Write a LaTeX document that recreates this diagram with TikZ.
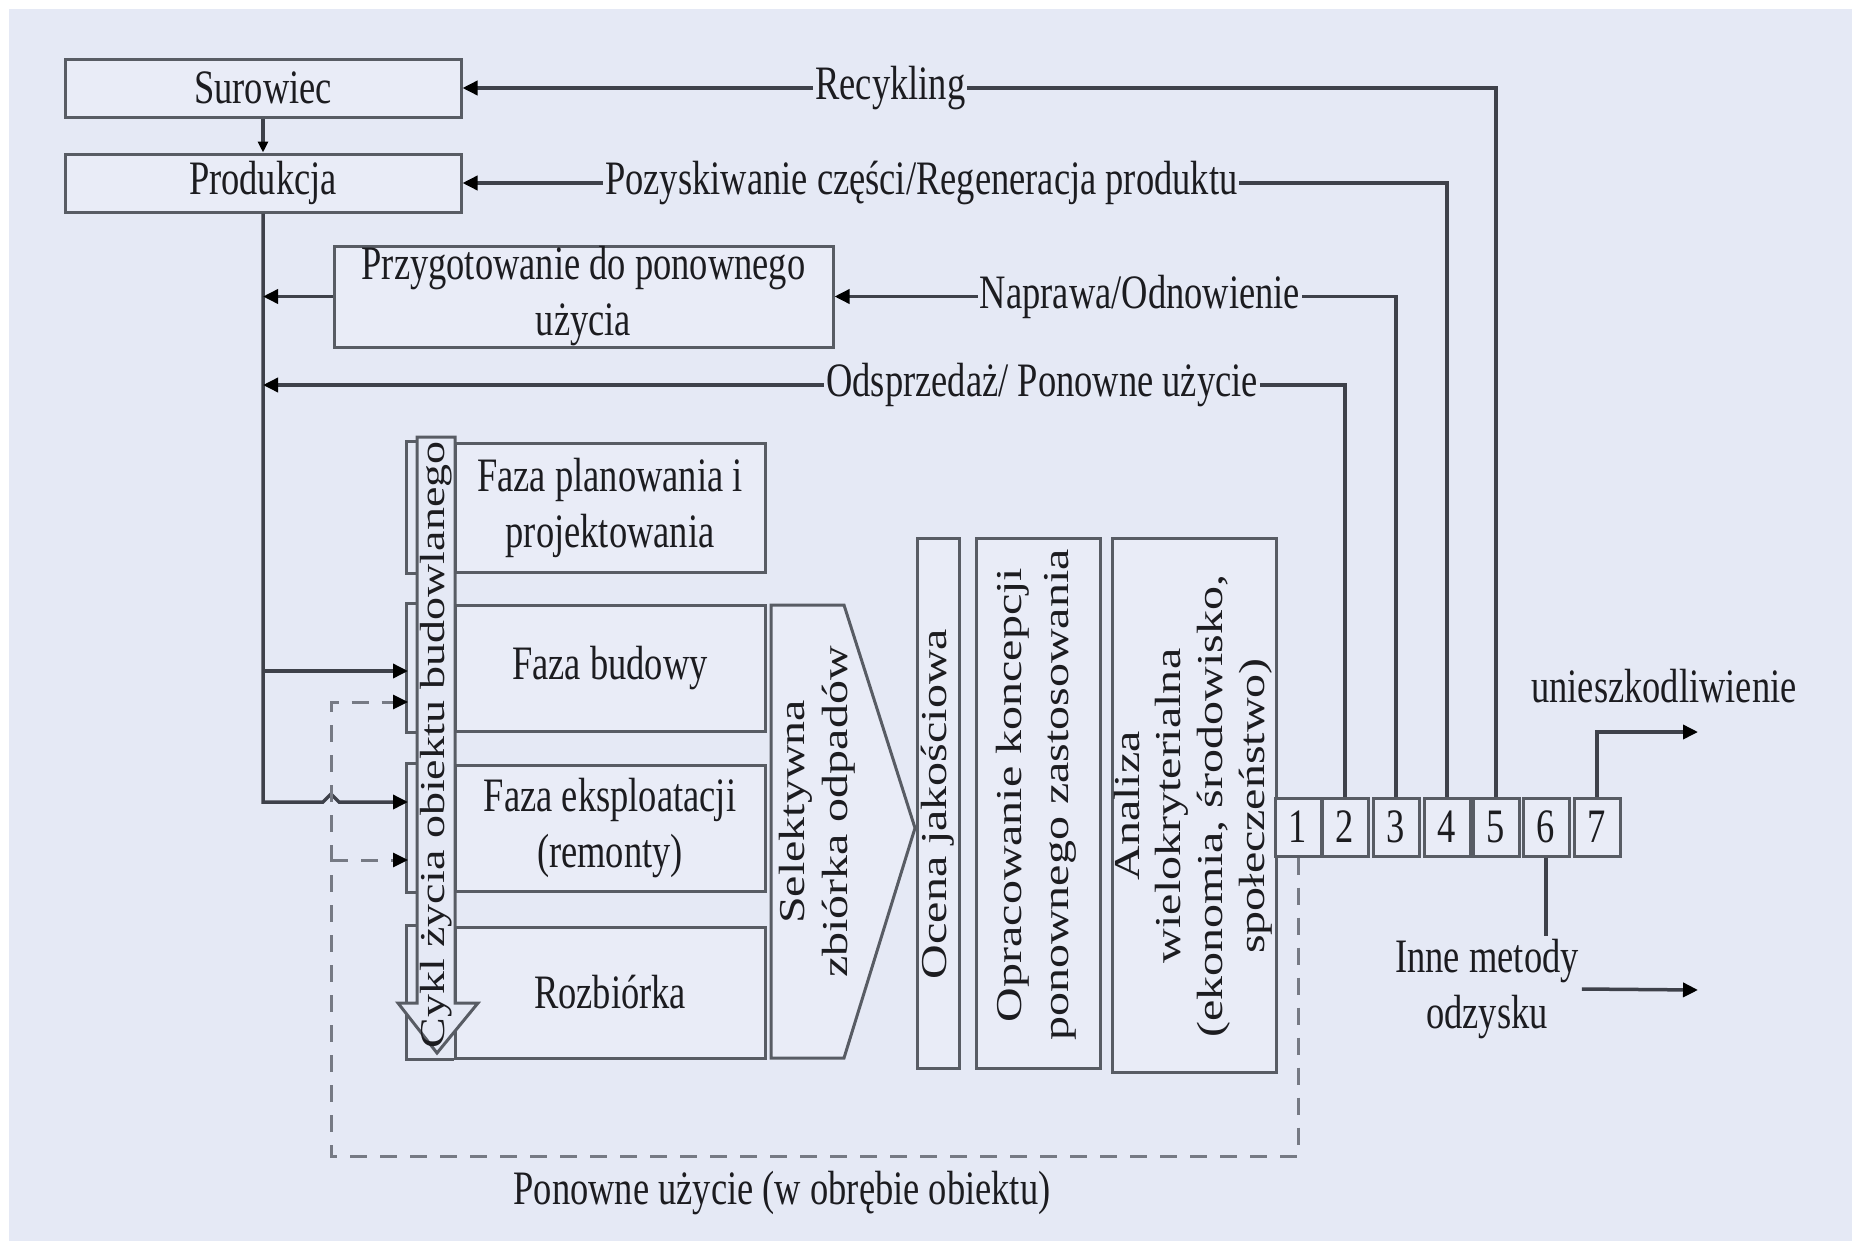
\documentclass[tikz,border=0pt]{standalone}
\usepackage{fontspec}
\setmainfont{Liberation Serif}[FakeStretch=0.76]
\newfontfamily\rotfont{Liberation Serif}
\usetikzlibrary{arrows.meta,calc}
\definecolor{bg}{RGB}{229,233,245}
\definecolor{boxfill}{RGB}{233,236,247}
\definecolor{edge}{RGB}{88,92,100}
\definecolor{conn}{RGB}{62,65,74}
\definecolor{dashc}{RGB}{118,122,132}
\definecolor{txt}{RGB}{28,28,32}
\begin{document}
\begin{tikzpicture}[x=1pt,y=-1pt,
  every node/.style={text=txt, font=\fontsize{48}{56}\selectfont},
  box/.style={draw=edge, line width=3pt, fill=boxfill, inner sep=0pt, align=center},
  numbox/.style={box, minimum width=46pt, minimum height=58pt},
  edgeline/.style={draw=edge, line width=3pt},
  conn/.style={draw=conn, line width=3.5pt},
  arr/.style={conn, -{Triangle[length=15pt,width=14pt,color=black]}},
  smallarr/.style={conn, -{Triangle[length=11pt,width=10pt,color=black]}},
  dashl/.style={draw=dashc, line width=3pt, dash pattern=on 17pt off 13pt},
  dasharr/.style={dashl, -{Triangle[length=15pt,width=14pt,color=black]}},
  lbl/.style={fill=bg, inner xsep=2pt, inner ysep=0pt},
  rot/.style={rotate=90, yscale=0.76, font=\rotfont\fontsize{48}{56}\selectfont, align=center, inner sep=0pt},
]
\useasboundingbox (0,0) rectangle (1852,1242);
\fill[white] (0,0) rectangle (1852,1242);
\fill[bg] (9,9) rectangle (1852,1241);

% top boxes
\node[box, minimum width=396pt, minimum height=58pt] (surowiec) at (263,88) {Surowiec};
\node[box, minimum width=396pt, minimum height=58pt] (produkcja) at (263,183) {Produkcja};
\node[box, minimum width=499pt, minimum height=101pt] (przyg) at (583.5,296.5) {Przygotowanie do ponownego\\użycia};

% phase boxes
\node[box, minimum width=310pt, minimum height=129pt] (faza1) at (610,507.5) {Faza planowania i\\projektowania};
\node[box, minimum width=310pt, minimum height=126pt] (faza2) at (610,668) {Faza budowy};
\node[box, minimum width=310pt, minimum height=126pt] (faza3) at (610,828) {Faza eksploatacji\\(remonty)};
\node[box, minimum width=310pt, minimum height=131pt] (faza4) at (610,992.5) {Rozbiórka};
\foreach \f in {faza1,faza2,faza3,faza4}
  \draw[edgeline] (\f.north west) -- ++(-47,0) |- (\f.south west);

% life-cycle block arrow
\draw[edgeline, fill=bg] (417,437) -- (455,437) -- (455,1003) -- (478,1003) -- (437,1053) -- (398,1003) -- (417,1003) -- cycle;
\node[rot, font=\rotfont\fontsize{46}{54}\selectfont] (cyklT) at (436,745) {Cykl życia obiektu budowlanego};

% selective collection chevron
\draw[edgeline, fill=boxfill] (771,605) -- (844,605) -- (915,828) -- (844,1058) -- (771,1058) -- cycle;
\node[rot] (selT) at (817,812) {Selektywna\\zbiórka odpadów};

% vertical boxes
\node[box, minimum width=42pt, minimum height=530pt] (ocena) at (938,803) {};
\node[rot] (ocenaT) at (938,804) {Ocena jakościowa};
\node[box, minimum width=124pt, minimum height=530pt] (oprac) at (1038,803) {};
\node[rot, font=\rotfont\fontsize{48}{62}\selectfont] (opracT) at (1036,795) {Opracowanie koncepcji\\ponownego zastosowania};
\node[box, minimum width=164pt, minimum height=534pt] (analiza) at (1194,805) {};
\node[rot, font=\rotfont\fontsize{48}{55}\selectfont] (analizaT) at (1193,806) {Analiza\\wielokryterialna\\(ekonomia, środowisko,\\społeczeństwo)};

% numbered boxes
\foreach \i/\x in {1/1298,2/1345,3/1396,4/1447,5/1496,6/1546,7/1597}
  \node[numbox] (b\i) at (\x,827) {\i};

% free ends
\coordinate (lc1) at (408,671);
\coordinate (lc2) at (408,702);
\coordinate (lc3) at (408,802);
\coordinate (lc4) at (408,860);
\coordinate (vOds) at (263,385);
\coordinate (dcorner) at (331,1156);
\coordinate (dj) at (331,860);
\coordinate (outInne) at (1698,990);
\coordinate (outUn) at (1698,732);

% supply line from Produkcja
\draw[smallarr] (surowiec.south) -- (produkcja.north);
\draw[arr] (produkcja.south) -- (produkcja.south |- lc3) -- (323,802) -- (331,794) -- (339,802) -- (lc3);
\draw[arr] (produkcja.south |- lc1) -- (lc1);
\draw[arr] (przyg.west) -- (przyg.west -| produkcja.south);

% return loops
\draw[arr] (b5.north) |- node[lbl, pos=0.793] (recT) {Recykling} (surowiec.east);
\draw[arr] (b4.north) |- node[lbl, pos=0.767] (pozT) {Pozyskiwanie części/Regeneracja produktu} (produkcja.east);
\draw[arr] (b3.north) |- node[lbl, pos=0.728] (napT) {Naprawa/Odnowienie} (przyg.east);
\draw[arr] (b2.north) |- node[lbl, pos=0.64] (odsT) {Odsprzedaż/ Ponowne użycie} (vOds);

% reuse within the object (dashed)
\draw[dasharr] (b1.south) |- (dcorner) |- (lc2);
\draw[dasharr] (dj) -- (lc4);
\node (ponT) at (782,1193) {Ponowne użycie (w obrębie obiektu)};

% other outputs
\node[align=center, inner sep=3pt] (inne) at (1487,989) {Inne metody\\odzysku};
\draw[conn] (b6.south) -- (b6.south |- inne.north);
\draw[arr] (inne.east) -- (outInne);
\draw[arr] (b7.north) |- (outUn);
\node (unies) at (1664,686) {unieszkodliwienie};
\end{tikzpicture}
\end{document}
